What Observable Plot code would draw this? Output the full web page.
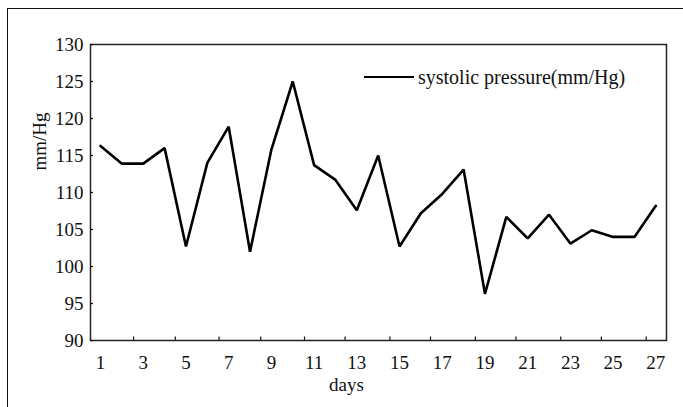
<!DOCTYPE html>
<html>
<head>
<meta charset="utf-8">
<script src="https://cdn.jsdelivr.net/npm/d3@7"></script>
<script src="https://cdn.jsdelivr.net/npm/@observablehq/plot@0.6"></script>
<style>
  html, body { margin: 0; padding: 0; background: #fff; }
  #wrap { position: relative; width: 683px; height: 407px; overflow: hidden; background: #fff; }
  #border { position: absolute; left: 7px; top: 8px; right: -10px; bottom: -10px;
            border-left: 1.6px solid #111; border-top: 1.6px solid #111; pointer-events: none; }
  #legend { position: absolute; left: 364px; top: 64px; height: 26px; display: flex; align-items: center;
            font-family: "Liberation Serif", serif; font-size: 20px; color: #111; }
  #legend .sw { width: 50px; height: 0; border-top: 2.6px solid #000; margin-right: 4px; }
  #chart svg text { font-family: "Liberation Serif", serif !important; font-variant: normal !important; }
</style>
</head>
<body>
<div id="wrap">
  <div id="chart"></div>
  <div id="border"></div>
  <div id="legend"><span class="sw"></span><span>systolic pressure(mm/Hg)</span></div>
</div>
<script>
const days = [1, 2, 3, 4, 5, 6, 7, 8, 9, 10, 11, 12, 13, 14, 15, 16, 17, 18, 19, 20, 21, 22, 23, 24, 25, 26, 27];
const systolic = [116.3, 113.9, 113.9, 116.0, 102.7, 114.0, 118.9, 102.0, 115.8, 125.0, 113.7, 111.7, 107.6, 115.0, 102.7, 107.2, 109.8, 113.1, 96.3, 106.7, 103.8, 107.0, 103.1, 104.9, 104.0, 104.0, 108.2];
const xTickLabels = [1, 3, 5, 7, 9, 11, 13, 15, 17, 19, 21, 23, 25, 27];
const xTickMarks = [2.55, 4.5, 6.55, 8.5, 10.55, 12.45, 14.55, 16.45, 18.55, 20.45, 22.55, 24.45, 26.55];
const yTicks = [90, 95, 100, 105, 110, 115, 120, 125, 130];

const data = days.map((d, i) => ({day: d, value: systolic[i]}));

const chart = Plot.plot({
  width: 683,
  height: 407,
  marginLeft: 90,
  marginTop: 44,
  marginRight: 17,
  marginBottom: 67,
  style: {fontFamily: "'Liberation Serif', serif", fontSize: "19px", color: "#111", background: "transparent"},
  x: {domain: [0.53, 27.5]},
  y: {domain: [90, 130]},
  marks: [
    Plot.frame({stroke: "#222", strokeWidth: 1.5}),
    Plot.axisY({ticks: yTicks, tickSize: -3, tickFormat: () => "", label: null, strokeWidth: 1.2}),
    Plot.axisY({ticks: yTicks, tickSize: 0, tickPadding: 7, label: null, fontSize: 19}),
    Plot.axisX({ticks: xTickMarks, tickSize: -3.5, tickFormat: () => "", label: null, strokeWidth: 1.2}),
    Plot.axisX({ticks: xTickLabels, tickSize: 0, tickPadding: 15, label: null, fontSize: 19}),
    Plot.line(data, {x: "day", y: "value", stroke: "#000", strokeWidth: 2.6, strokeLinejoin: "miter"}),
    Plot.text(["days"], {frameAnchor: "bottom", dx: -32, dy: 50, fontSize: 19, fill: "#111"}),
    Plot.text(["mm/Hg"], {frameAnchor: "left", dx: -51, dy: -22, rotate: -90, fontSize: 19, fill: "#111"})
  ]
});
document.getElementById("chart").append(chart);
</script>
</body>
</html>
